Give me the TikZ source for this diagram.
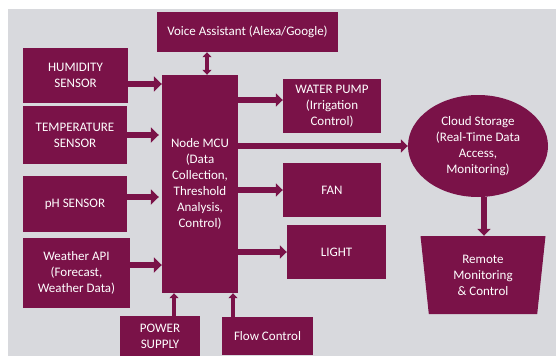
\documentclass[tikz,border=0pt]{standalone}
\usepackage{fontspec}
\setmainfont{Carlito}
\usetikzlibrary{positioning}
\usetikzlibrary{arrows.meta}
\usetikzlibrary{shapes.geometric}
\definecolor{figGranate}{RGB}{122,18,72}
\definecolor{figFondo}{RGB}{216,217,221}
\tikzset{
  bloque/.style={
    rectangle, draw=none, fill=figGranate, text=white,
    align=center, font=\fontsize{13}{16}\selectfont, inner sep=2pt
  },
  nube/.style={
    ellipse, draw=none, fill=figGranate, text=white,
    align=center, font=\fontsize{13}{16}\selectfont, inner sep=0pt
  },
  embudo/.style={
    trapezium, shape border rotate=180, trapezium angle=78.4,
    trapezium stretches body=true, draw=none, fill=figGranate, text=white,
    align=center, font=\fontsize{13}{16}\selectfont, inner sep=0pt
  },
  flecha/.style={-{Triangle[length=8pt,width=15pt]}, line width=6.5pt, draw=figGranate},
  flechas/.style={-{Triangle[length=7pt,width=13pt]}, line width=5.5pt, draw=figGranate},
  flechaf/.style={-{Triangle[length=5pt,width=9pt]}, line width=3.5pt, draw=figGranate},
  flechad/.style={{Triangle[length=5pt,width=9pt]}-{Triangle[length=5pt,width=9pt]}, line width=3.5pt, draw=figGranate}
}

\begin{document}
\begin{tikzpicture}[x=1pt, y=-1pt]
  \useasboundingbox (0,0) rectangle (556,356);
  \fill[figFondo] (8,9) rectangle (556,356);
  % entradas
  \node[bloque, minimum width=105pt, minimum height=55pt] (hum) at (75.5,75.5) {HUMIDITY\\SENSOR};
  \node[bloque, minimum width=104pt, minimum height=58pt] (temp) at (75,135) {TEMPERATURE\\SENSOR};
  \node[bloque, minimum width=104pt, minimum height=56pt] (ph) at (75,204) {pH SENSOR};
  \node[bloque, minimum width=107pt, minimum height=70pt] (clima) at (76.5,273) {Weather API\\(Forecast,\\Weather Data)};
  % controlador
  \node[bloque, minimum width=76pt, minimum height=218pt] (mcu) at (200,184) {Node MCU\\(Data\\Collection,\\Threshold\\Analysis,\\Control)};
  \node[bloque, minimum width=181pt, minimum height=40pt] (voz) at (247.5,32) {Voice Assistant (Alexa/Google)};
  \node[bloque, minimum width=80pt, minimum height=40pt] (power) at (160,336) {POWER\\SUPPLY};
  \node[bloque, minimum width=91pt, minimum height=38pt] (flujo) at (267.5,336) {Flow Control};
  % salidas
  \node[bloque, minimum width=98pt, minimum height=54pt] (bomba) at (332,106) {WATER PUMP\\(Irrigation\\Control)};
  \node[bloque, minimum width=98pt, minimum height=54pt] (fan) at (332,190) {FAN};
  \node[bloque, minimum width=99pt, minimum height=54pt] (luz) at (336.5,252) {LIGHT};
  \node[nube, minimum width=140pt, minimum height=102pt] (nube) at (478,146) {Cloud Storage\\(Real-Time Data\\Access,\\Monitoring)};
  \node[embudo, minimum width=125pt, minimum height=78pt] (remoto) at (483,275) {Remote\\Monitoring\\\& Control};
  % conexiones
  \draw[flecha] ([yshift=-8.5pt]hum.east) -- ([yshift=-8.5pt]hum.east -| mcu.west);
  \draw[flecha] (temp.east) -- ([xshift=-3pt]temp.east -| mcu.west);
  \draw[flecha] ([yshift=7pt]ph.east) -- ([xshift=-3pt,yshift=7pt]ph.east -| mcu.west);
  \draw[flecha] ([yshift=8pt]clima.east) -- ([yshift=8pt]clima.east -| mcu.west);
  \draw[flechas] ([yshift=6pt]bomba.west -| mcu.east) -- ([yshift=6pt]bomba.west);
  \draw[flechas] (mcu.east |- nube.west) -- (nube.west);
  \draw[flechas] (mcu.east |- fan.west) -- (fan.west);
  \draw[flechas] (mcu.east |- luz.west) -- (luz.west);
  \draw[flechad] ([xshift=7pt]mcu.north) -- ([xshift=7pt]mcu.north |- voz.south);
  \draw[flechaf] ([xshift=14pt]power.north) -- ([xshift=14pt]power.north |- mcu.south);
  \draw[flechaf] ([xshift=-34.5pt]flujo.north) -- ([xshift=-34.5pt]flujo.north |- mcu.south);
  \draw[flechas] ([xshift=6pt]nube.south) -- ([xshift=6pt]nube.south |- remoto.north);
\end{tikzpicture}
\end{document}
